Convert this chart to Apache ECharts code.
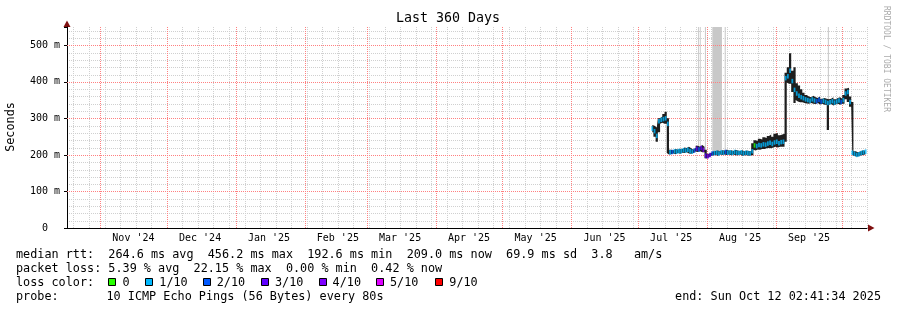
<!DOCTYPE html>
<html><head><meta charset="utf-8">
<script src="https://cdn.jsdelivr.net/npm/echarts@6/dist/echarts.min.js"></script>
<style>html,body{margin:0;padding:0;background:#fff}#c{width:897px;height:310px}</style>
</head><body><div id="c"></div>
<script>
// ---- data (daily consolidated) ----
const days = [
 '2025-07-07','2025-07-08','2025-07-09','2025-07-10','2025-07-11','2025-07-12','2025-07-13','2025-07-14','2025-07-15','2025-07-16',
 '2025-07-17','2025-07-18','2025-07-19','2025-07-20','2025-07-21','2025-07-22','2025-07-23','2025-07-24','2025-07-25','2025-07-26',
 '2025-07-27','2025-07-28','2025-07-29','2025-07-30','2025-07-31',
 '2025-08-01','2025-08-02','2025-08-03','2025-08-04','2025-08-05','2025-08-06','2025-08-07','2025-08-08','2025-08-09','2025-08-10',
 '2025-08-11','2025-08-12','2025-08-13','2025-08-14','2025-08-15','2025-08-16','2025-08-17','2025-08-18','2025-08-19','2025-08-20',
 '2025-08-21','2025-08-22','2025-08-23','2025-08-24','2025-08-25','2025-08-26','2025-08-27','2025-08-28','2025-08-29','2025-08-30','2025-08-31',
 '2025-09-01','2025-09-02','2025-09-03','2025-09-04','2025-09-05','2025-09-06','2025-09-07','2025-09-08','2025-09-09','2025-09-10',
 '2025-09-11','2025-09-12','2025-09-13','2025-09-14','2025-09-15','2025-09-16','2025-09-17','2025-09-18','2025-09-19','2025-09-20',
 '2025-09-21','2025-09-22','2025-09-23','2025-09-24','2025-09-25','2025-09-26','2025-09-27','2025-09-28','2025-09-29','2025-09-30',
 '2025-10-01','2025-10-02','2025-10-03','2025-10-04','2025-10-05','2025-10-06','2025-10-07','2025-10-08','2025-10-09','2025-10-10','2025-10-11'
];
const median = [
 272,265,252,292,296,298,300,285,207,208, 210,209,211,210,213,212,214,211,209,212, 217,215,219,214,198,
 196,200,204,205,206,204,207,206,208,206, 207,205,208,206,205,207,204,206,205,204, 210,226,224,227,226,229,228,231,233,230,234,
 236,232,235,236,410,415,430,402,378,368, 362,358,355,352,350,348,352,349,347,351, 346,348,345,342,344,347,343,346,349,345,
 350,368,372,345,206,203,200,202,205,207,209
];
const smokeLo = [
 262,250,236,262,285,288,285,205,201,202, 204,202,205,203,206,205,207,204,203,205, 209,208,210,207,191,
 190,193,198,199,200,198,201,200,201,200, 201,199,201,199,199,201,198,199,199,198, 199,214,212,215,214,216,216,218,219,218,220,
 222,220,222,222,236,398,395,372,342,350, 346,344,344,342,341,340,342,340,339,342, 338,340,337,268,337,339,335,338,340,337,
 340,352,345,332,199,197,195,196,199,200,202
];
const smokeHi = [
 282,280,275,300,305,312,318,300,214,213, 216,215,217,216,220,219,222,218,215,219, 225,222,227,222,214,
 203,206,210,211,212,210,213,212,214,212, 213,211,214,212,211,213,210,212,211,210, 232,240,238,244,242,248,246,252,256,250,258,
 260,254,256,258,425,440,478,430,440,396, 390,380,370,364,360,358,362,358,356,360, 354,356,354,352,354,358,352,356,358,354,
 364,382,384,360,345,210,207,209,212,213,215
];
const lossTenths = [
 1,1,1,1,1,1,1,1,1,2, 1,1,1,1,1,1,1,1,1,2, 3,2,3,4,3,
 4,3,2,1,1,1,1,1,2,1, 1,1,1,1,1,1,1,1,1,1, 1,0,1,1,1,1,1,1,1,1,1,
 1,1,1,1,1,1,1,1,1,1, 1,1,1,1,1,1,1,1,2,2, 2,1,1,1,1,1,1,1,1,2,
 1,1,1,1,1,1,1,1,1,1,1
];
// tall grey smoke (pings far off scale)
const grayStart = ['2025-07-28T01:00:00','2025-07-28T21:00:00','2025-07-31T04:00:00','2025-08-03T12:00:00','2025-08-09T02:00:00','2025-09-24T12:00:00'];
const grayEnd   = ['2025-07-28T11:00:00','2025-07-29T07:00:00','2025-07-31T15:00:00','2025-08-07T20:00:00','2025-08-09T13:00:00','2025-09-24T23:00:00'];
const grayLow   = [218, 220, 205, 210, 212, 345];
const monthStarts = ['2024-11-01','2024-12-01','2025-01-01','2025-02-01','2025-03-01','2025-04-01','2025-05-01','2025-06-01','2025-07-01','2025-08-01','2025-09-01','2025-10-01'];
const monthLabelDates = ['2024-11-16','2024-12-16','2025-01-16','2025-02-16','2025-03-16','2025-04-16','2025-05-16','2025-06-16','2025-07-16','2025-08-16','2025-09-16'];
const monthLabels = ["Nov '24","Dec '24","Jan '25","Feb '25","Mar '25","Apr '25","May '25","Jun '25","Jul '25","Aug '25","Sep '25"];
const yMajor = [0,100,200,300,400,500];
const yMinorStep = 20;
const lossColors = {0:'#26ff00',1:'#00b8ff',2:'#0059ff',3:'#5e00ff',4:'#7e00ff',5:'#dd00ff',9:'#ff0000'};
const legendKeys = ['0','1/10','2/10','3/10','4/10','5/10','9/10'];
const legendColorKeys = [0,1,2,3,4,5,9];

// ---- helpers ----
const Tmid = s => Date.parse(s + 'T12:00:00Z');
const T0 = s => Date.parse(s + 'T00:00:00Z');
const Tz = s => Date.parse(s + 'Z');
const endT = Date.parse('2025-10-12T02:41:34Z');
const startT = endT - 360 * 86400000;
const YMAX = 550;
const weekLines = [];
for (let t = T0('2024-10-20'); t < endT; t += 7 * 86400000) weekLines.push(t);
const hMinor = [], hMajor = [];
for (let v = yMinorStep; v < YMAX; v += yMinorStep) (yMajor.indexOf(v) >= 0 ? hMajor : hMinor).push(v);
const labelTimes = monthLabelDates.map(T0);
const FONT = '"DejaVu Sans Mono", monospace';
const GRAY = '#d0d0d0', RED = '#ff8080';

const chart = echarts.init(document.getElementById('c'), null, {renderer: 'canvas'});
const G = {left: 67, right: 30, top: 27, bottom: 82};

const staticGraphics = [
    {type: 'text', x: 448, y: 19, style: {text: 'Last 360 Days', font: '13.3px ' + FONT, fill: '#000', align: 'center', verticalAlign: 'middle'}},
    {type: 'text', x: 11, y: 127, rotation: Math.PI / 2, style: {text: 'Seconds', font: '11.8px ' + FONT, fill: '#000', align: 'center', verticalAlign: 'middle'}},
    {type: 'text', x: 886, y: 59, rotation: -Math.PI / 2, style: {text: 'RRDTOOL / TOBI OETIKER', font: '8px ' + FONT, fill: '#ababab', align: 'center', verticalAlign: 'middle'}},
    {type: 'polygon', shape: {points: [[868, 224.5], [874.5, 228], [868, 231.5]]}, style: {fill: '#7f1010'}},
    {type: 'polygon', shape: {points: [[63.5, 27], [67, 20.5], [70.5, 27]]}, style: {fill: '#7f1010'}},
    {type: 'text', x: 16, y: 254.5, style: {text: 'median rtt:  264.6 ms avg  456.2 ms max  192.6 ms min  209.0 ms now  69.9 ms sd  3.8   am/s', font: '11.8px ' + FONT, fill: '#000', verticalAlign: 'middle'}},
    {type: 'text', x: 16, y: 268.5, style: {text: 'packet loss: 5.39 % avg  22.15 % max  0.00 % min  0.42 % now', font: '11.8px ' + FONT, fill: '#000', verticalAlign: 'middle'}},
    {type: 'text', x: 16, y: 282.5, style: {text: 'loss color:', font: '11.8px ' + FONT, fill: '#000', verticalAlign: 'middle'}},
    {type: 'text', x: 16, y: 296.5, style: {text: 'probe:', font: '11.8px ' + FONT, fill: '#000', verticalAlign: 'middle'}},
    {type: 'text', x: 106.5, y: 296.5, style: {text: '10 ICMP Echo Pings (56 Bytes) every 80s', font: '11.8px ' + FONT, fill: '#000', verticalAlign: 'middle'}},
    {type: 'text', x: 881, y: 296.5, style: {text: 'end: Sun Oct 12 02:41:34 2025', font: '11.8px ' + FONT, fill: '#000', align: 'right', verticalAlign: 'middle'}}
  ].concat(
    [108.5, 145.5, 203.5, 261.5, 319.5, 376.5, 435.5].map((x, i) => ({type: 'rect', shape: {x: x, y: 278.5, width: 7, height: 7}, style: {fill: lossColors[legendColorKeys[i]], stroke: '#000', lineWidth: 1}})),
    [122.5, 159.3, 216.7, 275, 332.6, 390, 449.3].map((x, i) => ({type: 'text', x: x, y: 282.5, style: {text: legendKeys[i], font: '11.8px ' + FONT, fill: '#000', verticalAlign: 'middle'}}))
  );

function hGrid(values, color, z) {
  return {type: 'custom', z: z, silent: true, clip: false, dimensions: ['x', 'y'], encode: {x: 0, y: 1},
    data: values.map(v => [startT, v]),
    renderItem: (params, api) => {
      const cs = params.coordSys;
      const y = Math.round(api.coord([startT, api.value(1)])[1]) + 0.5;
      return {type: 'line', silent: true, shape: {x1: cs.x, y1: y, x2: cs.x + cs.width, y2: y},
        style: {stroke: color, lineWidth: 1, lineDash: [1, 1]}};
    }};
}
function vGrid(times, color, z) {
  return {type: 'custom', z: z, silent: true, clip: false, dimensions: ['x', 'y'], encode: {x: 0, y: 1},
    data: times.map(t => [t, 0]),
    renderItem: (params, api) => {
      const cs = params.coordSys;
      const x = Math.round(api.coord([api.value(0), 0])[0]) + 0.5;
      return {type: 'line', silent: true, shape: {x1: x, y1: cs.y, x2: x, y2: cs.y + cs.height},
        style: {stroke: color, lineWidth: 1, lineDash: [1, 1]}};
    }};
}

chart.setOption({
  animation: false,
  backgroundColor: '#fff',
  grid: {left: G.left, right: G.right, top: G.top, bottom: G.bottom, containLabel: false},
  xAxis: {
    type: 'time', min: startT, max: endT,
    axisLine: {show: true, lineStyle: {color: '#000', width: 1}},
    axisTick: {show: false},
    splitLine: {show: false},
    axisLabel: {show: false}
  },
  yAxis: [{
    type: 'value', min: 0, max: YMAX, interval: 100,
    axisLine: {show: true, lineStyle: {color: '#000'}},
    axisTick: {show: true, length: 3, lineStyle: {color: '#000'}},
    splitLine: {show: false},
    axisLabel: {margin: 7, fontFamily: FONT, fontSize: 10, color: '#000',
      formatter: v => yMajor.indexOf(v) < 0 ? '' : (v === 0 ? '0  ' : v + ' m')}
  }],
  series: [
    hGrid(hMinor, GRAY, 0),
    vGrid(weekLines, GRAY, 0),
    hGrid(hMajor, RED, 1),
    vGrid(monthStarts.map(T0), RED, 1),
    {type: 'line', data: [], z: 2, silent: true,
     markArea: {silent: true, label: {show: false}, itemStyle: {color: '#c8c8c8'}, emphasis: {disabled: true},
       data: grayStart.map((s, i) => [{xAxis: Tz(s), yAxis: grayLow[i]}, {xAxis: Tz(grayEnd[i]), yAxis: YMAX}])}},
    {type: 'line', name: 'smokeBase', stack: 'smoke', step: 'middle', symbol: 'none', z: 3, silent: true,
     lineStyle: {width: 0, opacity: 0},
     data: days.map((d, i) => [Tmid(d), smokeLo[i]])},
    {type: 'line', name: 'smoke', stack: 'smoke', step: 'middle', symbol: 'none', z: 3, silent: true,
     lineStyle: {width: 0, opacity: 0}, areaStyle: {color: '#1e1e1e', opacity: 1},
     data: days.map((d, i) => [Tmid(d), smokeHi[i] - smokeLo[i]])},
    {type: 'scatter', name: 'median', symbol: 'rect', symbolSize: [1.8, 4.5], z: 5, silent: true,
     data: days.map((d, i) => ({value: [Tmid(d), median[i]], itemStyle: {color: lossColors[lossTenths[i]]}}))}
  ],
  graphic: staticGraphics
});

// month labels placed through the x axis scale
const axisY = chart.convertToPixel({yAxisIndex: 0}, 0);
const labelGraphics = labelTimes.map((t, i) => ({
  type: 'text', x: chart.convertToPixel({xAxisIndex: 0}, t), y: axisY + 10,
  style: {text: monthLabels[i], font: '10px ' + FONT, fill: '#000', align: 'center', verticalAlign: 'middle'}
}));
chart.setOption({graphic: staticGraphics.concat(labelGraphics)});
</script></body></html>
